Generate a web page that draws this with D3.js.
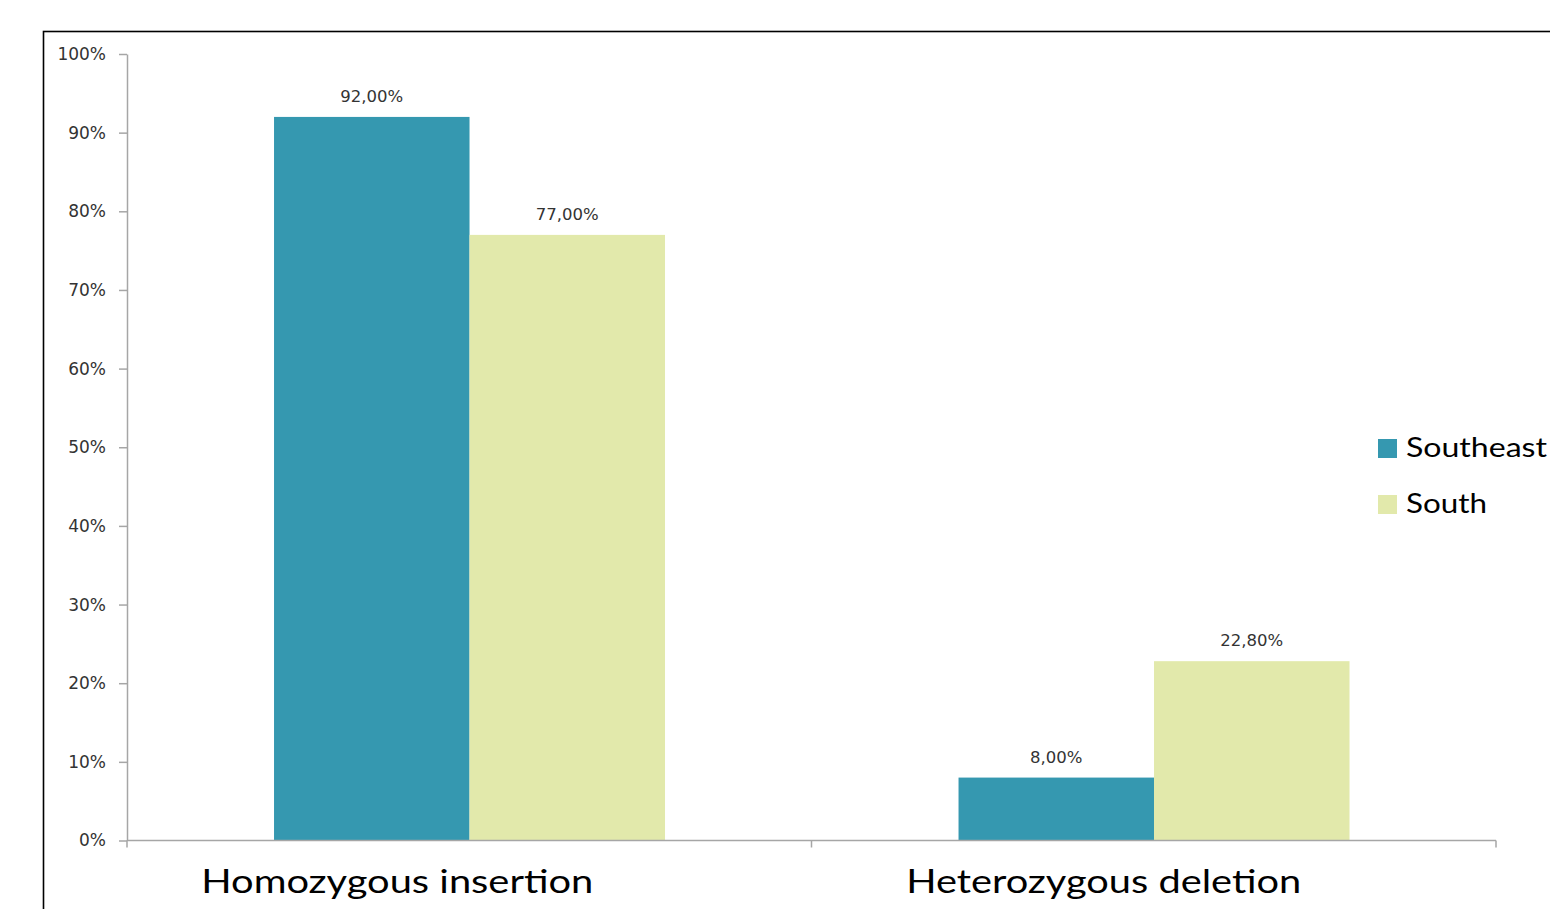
<!DOCTYPE html>
<html>
<head>
<meta charset="utf-8">
<script src="https://cdn.jsdelivr.net/npm/d3@7"></script>
<style>
  html, body { margin: 0; padding: 0; background: #fff; overflow: hidden; }
  svg { display: block; }
</style>
</head>
<body>
<svg id="chart" width="1550" height="909"></svg>
<script>
// ---- data ----
const categories = ["Homozygous insertion", "Heterozygous deletion"];
const seriesNames = ["Southeast", "South"];
const southeastValues = [92.0, 8.0];
const southValues = [77.0, 22.8];
const valueLabels = [["92,00%", "77,00%"], ["8,00%", "22,80%"]];
const yTicks = [0, 10, 20, 30, 40, 50, 60, 70, 80, 90, 100];
const yTickLabels = ["0%", "10%", "20%", "30%", "40%", "50%", "60%", "70%", "80%", "90%", "100%"];

// ---- layout / style ----
const colors = ["#3598b0", "#e2e9ab"];
const plot = { left: 127, right: 1496, top: 54, bottom: 840.5 };
const labelShift = [-72, -50];
const labelLength = [392, 395];

const svg = d3.select("#chart");

// outer frame
svg.append("rect")
  .attr("x", 43.5).attr("y", 31.5)
  .attr("width", 1600).attr("height", 1000)
  .attr("fill", "none").attr("stroke", "#000").attr("stroke-width", 1.6);

const y = d3.scaleLinear().domain([0, 100]).range([plot.bottom, plot.top]);
const x0 = d3.scaleBand().domain(categories).range([plot.left, plot.right]).padding(0);
const bw = x0.bandwidth();
const x1 = d3.scaleBand().domain(seriesNames).range([bw * 0.2148, bw * 0.786]).padding(0);

const rows = categories.map((c, i) => ({
  cat: c,
  vals: [
    { s: seriesNames[0], v: southeastValues[i], label: valueLabels[i][0] },
    { s: seriesNames[1], v: southValues[i], label: valueLabels[i][1] }
  ]
}));

// bars
const g = svg.append("g");
const groups = g.selectAll("g.grp").data(rows).join("g")
  .attr("class", "grp")
  .attr("transform", d => `translate(${x0(d.cat)},0)`);

groups.selectAll("rect").data(d => d.vals).join("rect")
  .attr("x", d => x1(d.s))
  .attr("width", x1.bandwidth())
  .attr("y", d => y(d.v))
  .attr("height", d => y(0) - y(d.v))
  .attr("fill", (d, i) => colors[i]);

groups.selectAll("text.val").data(d => d.vals).join("text")
  .attr("class", "val")
  .attr("x", d => x1(d.s) + x1.bandwidth() / 2)
  .attr("y", d => y(d.v) - 15)
  .attr("text-anchor", "middle")
  .attr("font-family", "DejaVu Sans")
  .attr("font-size", 16.5)
  .attr("fill", "#333")
  .text(d => d.label);

// y axis
const yAxis = d3.axisLeft(y)
  .tickValues(yTicks)
  .tickFormat((d, i) => yTickLabels[i])
  .tickSize(8).tickSizeOuter(0).tickPadding(13);
const yg = svg.append("g").attr("transform", `translate(${plot.left},0)`).call(yAxis);
yg.select(".domain").attr("stroke", "#a6a6a6").attr("stroke-width", 1.5);
yg.selectAll(".tick line").attr("stroke", "#a6a6a6").attr("stroke-width", 1.5);
yg.selectAll(".tick text")
  .attr("font-family", "DejaVu Sans").attr("font-size", 17).attr("fill", "#333");

// x axis (ticks at category boundaries)
svg.append("line")
  .attr("x1", plot.left).attr("x2", plot.right)
  .attr("y1", y(0)).attr("y2", y(0))
  .attr("stroke", "#a6a6a6").attr("stroke-width", 1.5);
const boundaries = categories.map(c => x0(c)).concat([x0(categories[categories.length - 1]) + bw]);
svg.selectAll("line.xtick").data(boundaries).join("line")
  .attr("class", "xtick")
  .attr("x1", d => d).attr("x2", d => d)
  .attr("y1", y(0)).attr("y2", y(0) + 7)
  .attr("stroke", "#a6a6a6").attr("stroke-width", 1.5);

svg.selectAll("text.cat").data(categories).join("text")
  .attr("class", "cat")
  .attr("x", (d, i) => x0(d) + bw / 2 + labelShift[i])
  .attr("y", 893)
  .attr("text-anchor", "middle")
  .attr("font-family", "Lato")
  .attr("font-size", 32)
  .attr("fill", "#000")
  .attr("textLength", (d, i) => labelLength[i])
  .attr("lengthAdjust", "spacingAndGlyphs")
  .text(d => d);

// legend
const legend = svg.append("g").attr("transform", "translate(1378,439)");
const li = legend.selectAll("g").data(seriesNames).join("g")
  .attr("transform", (d, i) => `translate(0,${i * 56})`);
li.append("rect").attr("width", 19).attr("height", 19).attr("fill", (d, i) => colors[i]);
li.append("text")
  .attr("x", 28).attr("y", 18)
  .attr("font-family", "Lato").attr("font-size", 27).attr("fill", "#000")
  .attr("textLength", (d, i) => i === 0 ? 141 : 81)
  .attr("lengthAdjust", "spacingAndGlyphs")
  .text(d => d);
</script>
</body>
</html>
